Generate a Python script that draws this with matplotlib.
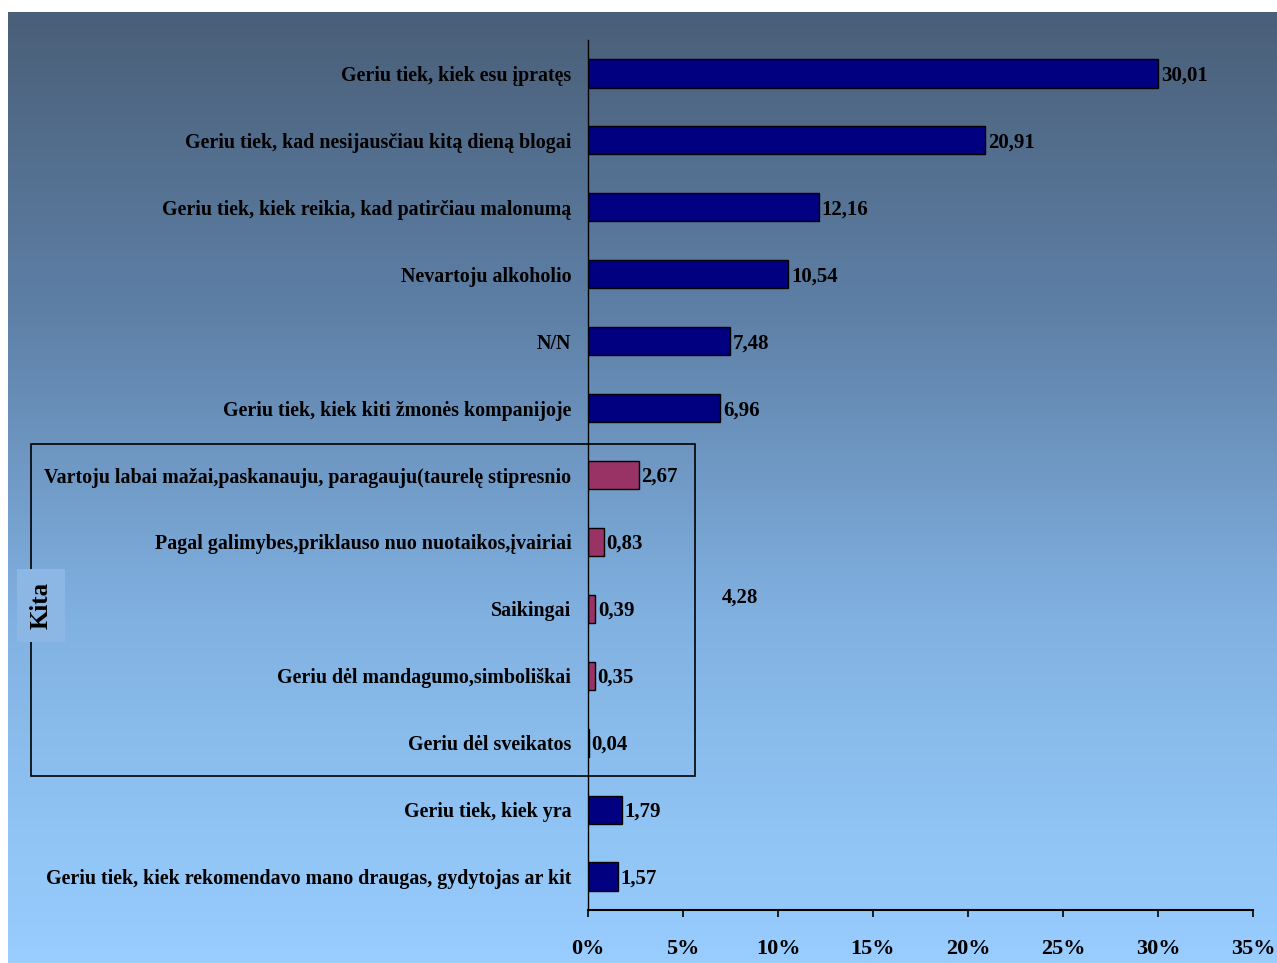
import numpy as np
import matplotlib
matplotlib.use("Agg")
import matplotlib.pyplot as plt
from matplotlib.colors import LinearSegmentedColormap
from matplotlib.patches import Rectangle
from matplotlib.ticker import FuncFormatter

# === Data ===
categories = [
    "Geriu tiek, kiek esu įpratęs",
    "Geriu tiek, kad nesijausčiau kitą dieną blogai",
    "Geriu tiek, kiek reikia, kad patirčiau malonumą",
    "Nevartoju alkoholio",
    "N/N",
    "Geriu tiek, kiek kiti žmonės kompanijoje",
    "Vartoju labai mažai,paskanauju, paragauju(taurelę stipresnio",
    "Pagal galimybes,priklauso nuo nuotaikos,įvairiai",
    "Saikingai",
    "Geriu dėl mandagumo,simboliškai",
    "Geriu dėl sveikatos",
    "Geriu tiek, kiek yra",
    "Geriu tiek, kiek rekomendavo mano draugas, gydytojas ar kit",
]
values = [30.01, 20.91, 12.16, 10.54, 7.48, 6.96, 2.67, 0.83, 0.39, 0.35, 0.04, 1.79, 1.57]
is_kita = [False] * 6 + [True] * 5 + [False] * 2
kita_total = 4.28
x_ticks = [0, 5, 10, 15, 20, 25, 30, 35]

navy = "#000080"
maroon = "#993366"
font = "Liberation Serif"
plt.rcParams["font.family"] = font
plt.rcParams["font.weight"] = "bold"

fig = plt.figure(figsize=(12.77, 9.63), dpi=100, facecolor="white")

# === Gradient background ===
bg = fig.add_axes([8 / 1277, 0, 1 - 8 / 1277, (963 - 12) / 963], zorder=0)
cmap = LinearSegmentedColormap.from_list(
    "bg", [(0, "#4a5f78"), (0.32, "#5e80a7"), (0.63, "#80b0e0"),
           (0.86, "#90c4f4"), (1.0, "#99ccff")])
grad = np.linspace(0, 1, 256).reshape(-1, 1)
bg.imshow(grad, aspect="auto", cmap=cmap, extent=[0, 1, 1, 0])
bg.set_axis_off()

# === Main axes ===
ax = fig.add_axes([588 / 1277, 1 - 910 / 963, (1253 - 588) / 1277, (910 - 40) / 963], zorder=1)
ax.patch.set_alpha(0)

y = np.arange(len(categories))
colors = [maroon if k else navy for k in is_kita]
ax.barh(y, values, height=0.42, color=colors, edgecolor="black", linewidth=1)

for yi, v in zip(y, values):
    ax.annotate(f"{v:.2f}".replace(".", ","), (v, yi), xytext=(2, -1.5),
                textcoords="offset points", va="center", ha="left",
                fontsize=15, fontweight="bold")

ax.set_xlim(0, 35)
ax.set_ylim(len(categories) - 0.5, -0.5)
ax.set_xticks(x_ticks)
ax.xaxis.set_major_formatter(FuncFormatter(lambda v, p: f"{v:.0f}%"))
ax.set_yticks(y)
ax.set_yticklabels(categories)
ax.tick_params(axis="y", length=0, pad=12, labelsize=14.4)
ax.tick_params(axis="x", length=5, width=1.2, direction="out", pad=16, labelsize=16)
for sp in ["top", "right"]:
    ax.spines[sp].set_visible(False)
ax.spines["left"].set_linewidth(1)
ax.spines["bottom"].set_linewidth(1.5)

# === "Kita" group box ===
box = Rectangle((-29.3, 5.53), 29.3 + 5.63, 10.5 - 5.53, fill=False,
                edgecolor="black", linewidth=1.2, clip_on=False, zorder=3)
ax.add_patch(box)
ax.text(-28.8, 7.95, "Kita", rotation=90, ha="center", va="center",
        fontsize=18, fontweight="bold", zorder=4,
        bbox=dict(boxstyle="square,pad=0.5", facecolor="#8cb6e4", edgecolor="none"))
ax.text(7.05, 7.83, f"{kita_total:.2f}".replace(".", ","), ha="left", va="center",
        fontsize=15, fontweight="bold")

fig.savefig("out.png", dpi=100, facecolor="white")
